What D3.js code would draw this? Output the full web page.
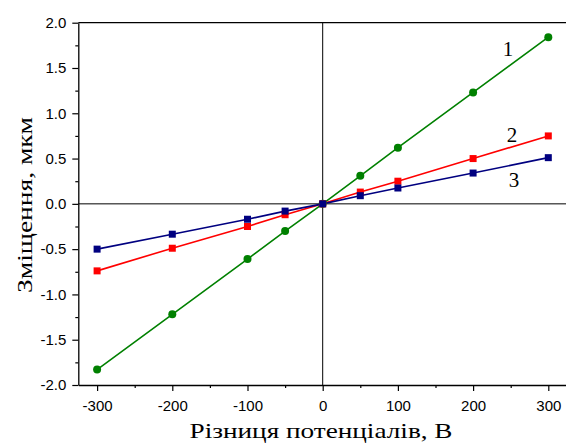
<!DOCTYPE html>
<html><head><meta charset="utf-8">
<script src="https://cdn.jsdelivr.net/npm/d3@7"></script>
<style>body{margin:0;background:#fff}svg{display:block}</style>
</head><body>
<svg id="c" width="566" height="443"></svg>
<script>
const voltages = [-300, -200, -100, -50, 0, 50, 100, 200, 300];
const series1 = [-1.83, -1.22, -0.61, -0.30, 0, 0.31, 0.62, 1.23, 1.84];
const series2 = [-0.74, -0.49, -0.25, -0.12, 0, 0.13, 0.25, 0.50, 0.75];
const series3 = [-0.50, -0.335, -0.17, -0.08, 0, 0.09, 0.175, 0.34, 0.51];
const xTicks = [-300, -200, -100, 0, 100, 200, 300];
const yTicks = [-2.0, -1.5, -1.0, -0.5, 0.0, 0.5, 1.0, 1.5, 2.0];
const seriesNames = ["1", "2", "3"];

const SANS = '"Liberation Sans"';
const SERIF = '"Liberation Serif"';

const svg = d3.select("#c");
const x = d3.scaleLinear().domain([-325, 325]).range([78.3, 567.1]);
const y = d3.scaleLinear().domain([-2, 2]).range([385, 22.7]);
const hy = s => s.replace("\u2212", "-");

svg.append("line").attr("x1", x(-325)).attr("x2", x(325)).attr("y1", y(2)).attr("y2", y(2))
  .attr("stroke", "#000").attr("stroke-width", 1.3);
svg.append("line").attr("x1", x(-325)).attr("x2", x(325)).attr("y1", y(0)).attr("y2", y(0))
  .attr("stroke", "#000").attr("stroke-width", 1);
svg.append("line").attr("x1", x(0)).attr("x2", x(0)).attr("y1", y(2)).attr("y2", y(-2))
  .attr("stroke", "#000").attr("stroke-width", 1);

const fx = d => hy(d3.format("d")(d));
const fy = d => hy(d3.format(".1f")(d));
svg.append("g").attr("transform", `translate(0,${y(-2)})`)
  .call(d3.axisBottom(x).tickValues(xTicks).tickFormat(fx).tickSize(6).tickSizeOuter(0).tickPadding(9));
const xMinor = svg.append("g").attr("transform", `translate(0,${y(-2)})`)
  .call(d3.axisBottom(x).tickValues([-250, -150, -50, 50, 150, 250]).tickFormat("").tickSize(3).tickSizeOuter(0));
xMinor.select(".domain").remove();

svg.append("g").attr("transform", `translate(${x(-325)},0)`)
  .call(d3.axisLeft(y).tickValues(yTicks).tickFormat(fy).tickSize(6).tickSizeOuter(0).tickPadding(6));
const yMinor = svg.append("g").attr("transform", `translate(${x(-325)},0)`)
  .call(d3.axisLeft(y).tickValues([-1.75, -1.25, -0.75, -0.25, 0.25, 0.75, 1.25, 1.75]).tickFormat("").tickSize(3).tickSizeOuter(0));
yMinor.select(".domain").remove();

svg.selectAll(".domain").attr("stroke", "#000").attr("stroke-width", 1.3);
svg.selectAll(".tick line").attr("stroke", "#000").attr("stroke-width", 1.2);
svg.selectAll(".tick text").style("font-family", SANS).style("font-size", "15px").attr("fill", "#000");

const data = [
  {vals: series1, color: "#008000", shape: "circle"},
  {vals: series2, color: "#ff0000", shape: "square"},
  {vals: series3, color: "#000080", shape: "square"}
];
const line = d3.line().x((d, i) => x(voltages[i])).y(d => y(d));
data.forEach(s => {
  svg.append("path").datum(s.vals).attr("d", line).attr("fill", "none")
    .attr("stroke", s.color).attr("stroke-width", 1.6);
});
data.forEach(s => {
  const g = svg.append("g");
  if (s.shape === "circle") {
    g.selectAll("circle").data(s.vals).join("circle")
      .attr("cx", (d, i) => x(voltages[i])).attr("cy", d => y(d)).attr("r", 4).attr("fill", s.color);
  } else {
    g.selectAll("rect").data(s.vals).join("rect")
      .attr("x", (d, i) => x(voltages[i]) - 3.5).attr("y", d => y(d) - 3.5)
      .attr("width", 7).attr("height", 7).attr("fill", s.color);
  }
});

const labelPos = [[508, 56], [512, 142], [514, 187]];
seriesNames.forEach((n, i) => {
  svg.append("text").style("font-family", SERIF).attr("x", labelPos[i][0]).attr("y", labelPos[i][1])
    .style("font-size", "21px").attr("text-anchor", "middle").text(n);
});

// titles: 22px serif stretched to the reference width
svg.append("text").style("font-family", SERIF).attr("text-anchor", "middle")
  .attr("x", 321).attr("y", 438)
  .attr("textLength", 263).attr("lengthAdjust", "spacingAndGlyphs")
  .style("font-size", "22px").text("Різниця потенціалів, В");
svg.append("text").style("font-family", SERIF).attr("text-anchor", "middle")
  .attr("transform", "translate(32,205) rotate(-90)")
  .attr("textLength", 176).attr("lengthAdjust", "spacingAndGlyphs")
  .style("font-size", "22px").text("Зміщення, мкм");
</script>
</body></html>
